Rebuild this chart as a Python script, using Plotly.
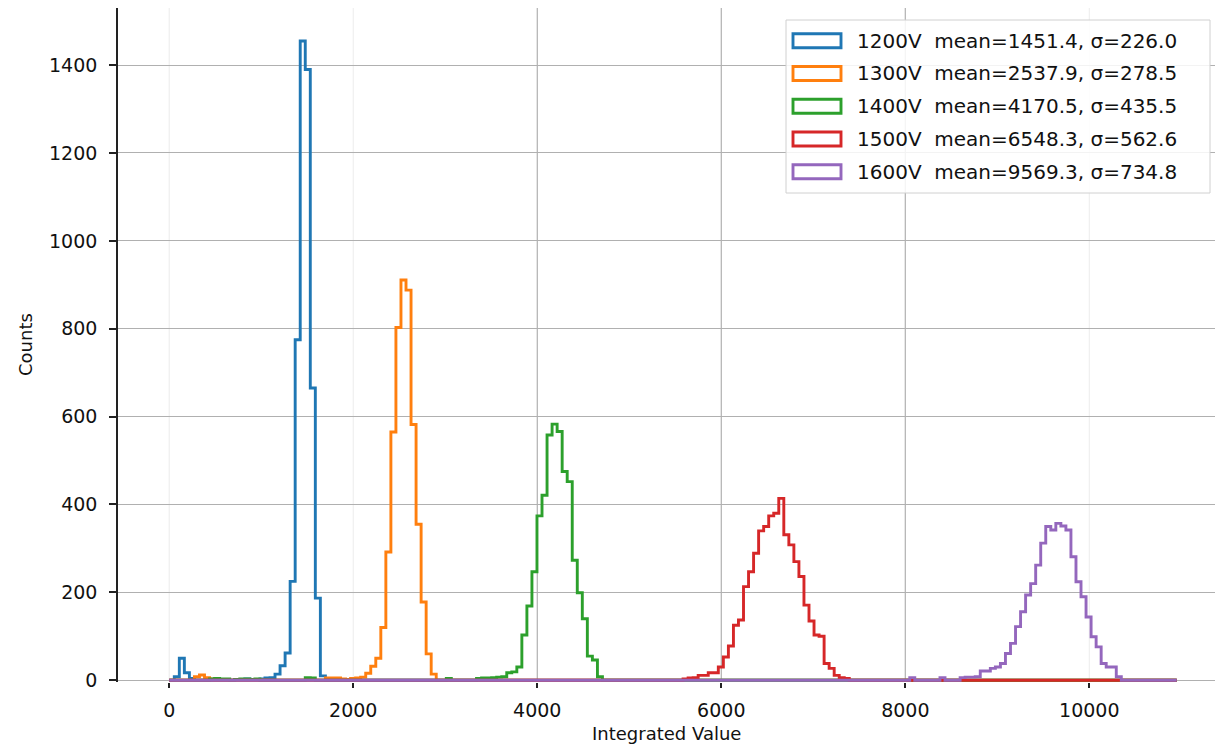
import plotly.graph_objects as go

# ---------------- data ----------------
N_BINS = 200
X_MAX = 10950.0

LABELS = ["1200V", "1300V", "1400V", "1500V", "1600V"]
MEANS = [1451.4, 2537.9, 4170.5, 6548.3, 9569.3]
SIGMAS = [226.0, 278.5, 435.5, 562.6, 734.8]

# non-empty bins (bin index) and their counts, per voltage
BINS_1200V = [1, 2, 3, 4, 13, 14, 15, 16, 17, 18, 19, 20, 21, 22, 23, 24, 25, 26, 27, 28, 29, 30]
COUNTS_1200V = [8, 50, 17, 4, 2, 2, 3, 2, 2, 3, 5, 6, 14, 33, 62, 225, 775, 1455, 1390, 665, 187, 10]

BINS_1300V = [5, 6, 7, 8, 31, 32, 33, 34, 35, 36, 37, 38, 39, 40, 41, 42, 43, 44, 45, 46, 47, 48, 49, 50, 51, 52]
COUNTS_1300V = [8, 12, 6, 3, 5, 5, 5, 3, 2, 4, 5, 7, 16, 32, 50, 120, 292, 565, 803, 911, 888, 582, 355, 178, 60, 14]

BINS_1400V = [8, 9, 10, 11, 13, 14, 15, 16, 17, 27, 28, 55, 61, 62, 63, 64, 65, 66, 67, 68, 69, 70,
              71, 72, 73, 74, 75, 76, 77, 78, 79, 80, 81, 82, 83, 84, 85]
COUNTS_1400V = [3, 4, 3, 3, 2, 3, 3, 2, 3, 6, 5, 4, 4, 5, 5, 6, 7, 8, 17, 19, 30, 103,
                169, 247, 374, 421, 558, 583, 566, 475, 452, 273, 199, 140, 55, 46, 8]

BINS_1500V = list(range(102, 135))
COUNTS_1500V = [3, 5, 6, 11, 11, 17, 17, 30, 53, 78, 125, 137, 213, 247, 289, 340, 350, 374, 380, 414,
                331, 308, 270, 236, 171, 135, 103, 100, 38, 27, 11, 6, 4]

BINS_1600V = [147, 153, 157, 158, 159, 160] + list(range(161, 189))
COUNTS_1600V = [6, 6, 6, 7, 7, 8, 21, 21, 27, 30, 38, 61, 84, 122, 156, 194, 220, 262, 312, 350,
                342, 357, 351, 342, 281, 224, 190, 144, 99, 76, 38, 30, 30, 8]

SERIES_BINS = [BINS_1200V, BINS_1300V, BINS_1400V, BINS_1500V, BINS_1600V]
SERIES_COUNTS = [COUNTS_1200V, COUNTS_1300V, COUNTS_1400V, COUNTS_1500V, COUNTS_1600V]

X_TICKS = [0, 2000, 4000, 6000, 8000, 10000]
X_TICK_TEXT = ["0", "2000", "4000", "6000", "8000", "10000"]
Y_TICKS = [0, 200, 400, 600, 800, 1000, 1200, 1400]
Y_TICK_TEXT = ["0", "200", "400", "600", "800", "1000", "1200", "1400"]

# ---------------- style ----------------
COLORS = ["#1f77b4", "#ff7f0e", "#2ca02c", "#d62728", "#9467bd"]
FONT = "DejaVu Sans"
TXT = "#111111"
W, H = 1215, 746
ML, MR, MT, MB = 118, 0, 8, 64
PW, PH = W - ML - MR, H - MT - MB
LW = 2.9

edges = [i * X_MAX / N_BINS for i in range(N_BINS + 1)]

fig = go.Figure()
for name, bins, cnts, col in zip(LABELS, SERIES_BINS, SERIES_COUNTS, COLORS):
    counts = [0] * N_BINS
    for b, c in zip(bins, cnts):
        counts[b] = c
    fig.add_trace(go.Scatter(
        x=edges, y=counts + [counts[-1]], mode="lines",
        line=dict(color=col, width=LW, shape="hv"),
        name=name, showlegend=False, hoverinfo="skip"))

def px_x(p):
    return (p - ML) / PW

def px_y(p):
    return (H - MB - p) / PH

shapes = []
# vertical grid lines
faint = {0, 2000, 10000}
for v in X_TICKS:
    shapes.append(dict(type="line", xref="x", yref="paper", x0=v, x1=v, y0=0, y1=1,
                       line=dict(color="#efefef" if v in faint else "#b0b0b0", width=1.2),
                       layer="below"))

# legend frame
shapes.append(dict(type="rect", xref="paper", yref="paper",
                   x0=px_x(786), x1=px_x(1210), y0=px_y(193), y1=px_y(20),
                   fillcolor="rgba(255,255,255,0.85)", line=dict(color="#d0d0d0", width=1),
                   layer="above"))
annotations = []
row0, dy = 40.7, 32.75
for i, (lab, m, s, col) in enumerate(zip(LABELS, MEANS, SIGMAS, COLORS)):
    cy = row0 + i * dy
    shapes.append(dict(type="rect", xref="paper", yref="paper",
                       x0=px_x(793), x1=px_x(841), y0=px_y(cy + 7), y1=px_y(cy - 7),
                       fillcolor="rgba(0,0,0,0)", line=dict(color=col, width=LW), layer="above"))
    annotations.append(dict(xref="paper", yref="paper", x=px_x(855), y=px_y(cy),
                            xanchor="left", yanchor="middle", showarrow=False,
                            text=f"{lab}\u00a0\u00a0mean={m:.1f}, \u03c3={s:.1f}",
                            font=dict(family=FONT, size=20, color=TXT)))

annotations.append(dict(xref="paper", yref="paper", x=0.5, y=px_y(733),
                        xanchor="center", yanchor="middle", showarrow=False,
                        text="Integrated Value", font=dict(family=FONT, size=18, color=TXT)))
annotations.append(dict(xref="paper", yref="paper", x=px_x(25), y=px_y(344),
                        xanchor="center", yanchor="middle", showarrow=False, textangle=-90,
                        text="Counts", font=dict(family=FONT, size=18, color=TXT)))

fig.update_layout(
    width=W, height=H,
    margin=dict(l=ML, r=MR, t=MT, b=MB, pad=0),
    paper_bgcolor="white", plot_bgcolor="white",
    font=dict(family=FONT, color=TXT),
    showlegend=False,
    shapes=shapes, annotations=annotations,
    xaxis=dict(range=[-557, 11366], tickvals=X_TICKS, ticktext=X_TICK_TEXT,
               ticks="outside", ticklen=5, tickwidth=1.5, tickcolor="#222",
               showgrid=False, zeroline=False, showline=False,
               tickfont=dict(family=FONT, size=19, color=TXT), ticklabelstandoff=6),
    yaxis=dict(range=[-4, 1530], tickvals=Y_TICKS, ticktext=Y_TICK_TEXT,
               ticks="outside", ticklen=7, tickwidth=1.5, tickcolor="#222",
               showgrid=True, gridcolor="#b0b0b0", gridwidth=1.2, zeroline=False,
               showline=True, linecolor="#222", linewidth=1.6,
               tickfont=dict(family=FONT, size=19, color=TXT), ticklabelstandoff=8),
)

fig.write_html("out.html")
